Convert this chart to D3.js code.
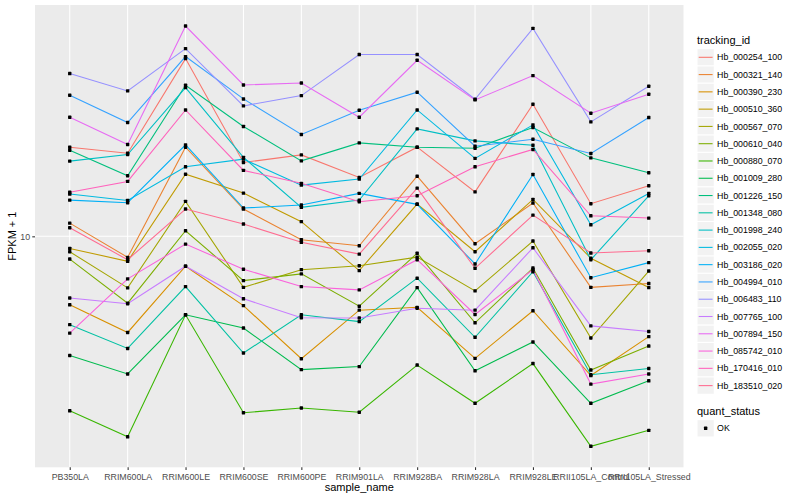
<!DOCTYPE html>
<html><head><meta charset="utf-8">
<script src="https://cdn.jsdelivr.net/npm/d3@7"></script>
<style>
body{margin:0;background:#fff}
svg{display:block;font-family:"Liberation Sans",Arial,Helvetica,sans-serif}
</style>
</head><body>
<svg id="c" width="800" height="500"></svg>
<script>
// ---------------- data ----------------
const samples = ["PB350LA","RRIM600LA","RRIM600LE","RRIM600SE","RRIM600PE","RRIM901LA","RRIM928BA","RRIM928LA","RRIM928LE","RRII105LA_Control","RRII105LA_Stressed"];
const trackingIds = ["Hb_000254_100","Hb_000321_140","Hb_000390_230","Hb_000510_360","Hb_000567_070","Hb_000610_040","Hb_000880_070","Hb_001009_280","Hb_001226_150","Hb_001348_080","Hb_001998_240","Hb_002055_020","Hb_003186_020","Hb_004994_010","Hb_006483_110","Hb_007765_100","Hb_007894_150","Hb_085742_010","Hb_170416_010","Hb_183510_020"];
const yTicks = [10];
const quantStatus = ["OK"];

const Hb_000254_100 = [15.79, 15.31, 24.86, 14.60, 15.18, 13.52, 15.79, 12.56, 19.68, 11.82, 12.96];
const Hb_000321_140 = [10.70, 8.98, 15.79, 11.50, 9.83, 9.53, 13.61, 9.63, 11.86, 7.70, 7.85];
const Hb_000390_230 = [7.04, 6.11, 8.58, 7.01, 5.34, 6.85, 6.95, 5.35, 6.83, 4.90, 5.98];
const Hb_000510_360 = [9.40, 8.80, 13.75, 12.48, 10.78, 8.39, 11.80, 9.24, 12.08, 8.94, 7.69];
const Hb_000567_070 = [9.24, 7.68, 11.96, 7.70, 8.43, 8.60, 8.99, 7.56, 9.76, 5.94, 8.37];
const Hb_000610_040 = [8.90, 7.10, 10.29, 7.97, 8.25, 6.99, 9.17, 6.42, 8.50, 5.04, 5.70];
const Hb_000880_070 = [4.09, 3.58, 6.69, 4.05, 4.15, 4.06, 5.17, 4.25, 5.21, 3.41, 3.70];
const Hb_001009_280 = [5.43, 4.94, 6.69, 6.25, 5.05, 5.13, 7.69, 5.02, 5.82, 4.25, 4.77];
const Hb_001226_150 = [15.55, 13.64, 21.69, 17.56, 14.72, 16.14, 15.79, 15.71, 17.47, 14.95, 13.85];
const Hb_001348_080 = [6.36, 5.63, 7.73, 5.50, 6.69, 6.46, 8.07, 5.96, 8.34, 4.92, 5.08];
const Hb_001998_240 = [14.70, 15.21, 21.43, 14.98, 11.60, 12.04, 17.34, 16.31, 15.95, 8.87, 12.31];
const Hb_002055_020 = [12.42, 12.02, 14.28, 14.85, 13.00, 13.41, 19.11, 14.91, 17.70, 10.61, 12.46];
const Hb_003186_020 = [12.04, 11.88, 15.98, 11.56, 11.74, 12.46, 11.78, 8.68, 13.73, 8.09, 8.74];
const Hb_004994_010 = [20.61, 17.92, 25.12, 20.22, 16.85, 19.08, 20.93, 15.87, 16.45, 15.29, 18.38];
const Hb_006483_110 = [23.03, 21.07, 26.17, 19.51, 20.57, 25.38, 25.38, 20.19, 29.03, 17.98, 21.58];
const Hb_007765_100 = [7.29, 7.08, 8.58, 7.26, 6.59, 6.58, 6.92, 6.85, 9.43, 6.32, 6.14];
const Hb_007894_150 = [18.41, 16.01, 29.38, 21.72, 21.94, 18.41, 24.65, 20.12, 22.79, 18.79, 20.71];
const Hb_085742_010 = [6.09, 8.04, 9.61, 8.45, 7.73, 7.60, 8.87, 6.70, 8.43, 4.69, 4.94];
const Hb_170416_010 = [12.53, 13.25, 19.11, 14.02, 13.12, 11.94, 12.31, 14.28, 15.61, 11.11, 10.98];
const Hb_183510_020 = [10.45, 8.87, 11.50, 10.65, 9.70, 9.13, 12.80, 8.49, 11.15, 9.18, 9.29];

const seriesValues = [Hb_000254_100, Hb_000321_140, Hb_000390_230, Hb_000510_360, Hb_000567_070,
  Hb_000610_040, Hb_000880_070, Hb_001009_280, Hb_001226_150, Hb_001348_080, Hb_001998_240,
  Hb_002055_020, Hb_003186_020, Hb_004994_010, Hb_006483_110, Hb_007765_100, Hb_007894_150,
  Hb_085742_010, Hb_170416_010, Hb_183510_020];

// ---------------- drawing ----------------
const palette = ["#F8766D","#EA8331","#D89000","#C09B00","#A3A500","#7CAE00","#39B600","#00BB4E","#00BF7D","#00C1A3","#00BFC4","#00BAE0","#00B0F6","#35A2FF","#9590FF","#C77CFF","#E76BF3","#FA62DB","#FF62BC","#FF6C91"];
const series = trackingIds.map((id, i) => ({id, values: seriesValues[i]}));

const P = {l: 35, r: 683.5, t: 5, b: 467.3};
const svg = d3.select("#c");

const x = d3.scalePoint().domain(samples).range([P.l, P.r]).padding(0.6);
const logExt = d3.extent(seriesValues.flat()).map(Math.log10);
const pad = (logExt[1] - logExt[0]) * 0.05;
const y = d3.scaleLog().domain([10 ** (logExt[0] - pad), 10 ** (logExt[1] + pad)]).range([P.b, P.t]);
const color = d3.scaleOrdinal().domain(trackingIds).range(palette);

// panel
svg.append("rect").attr("x", P.l).attr("y", P.t).attr("width", P.r - P.l).attr("height", P.b - P.t).attr("fill", "#EBEBEB");
const grid = svg.append("g").attr("stroke", "#fff").attr("stroke-width", 1.07);
grid.selectAll("line.v").data(samples).join("line").attr("class", "v")
  .attr("x1", d => x(d)).attr("x2", d => x(d)).attr("y1", P.t).attr("y2", P.b);
grid.selectAll("line.h").data(yTicks).join("line").attr("class", "h")
  .attr("x1", P.l).attr("x2", P.r).attr("y1", d => y(d)).attr("y2", d => y(d));

// lines
const line = d3.line().x((d, i) => x(samples[i])).y(d => y(d));
svg.append("g").selectAll("path").data(series).join("path")
  .attr("d", d => line(d.values)).attr("fill", "none")
  .attr("stroke", d => color(d.id)).attr("stroke-width", 1.07);

// points
const ptSize = 3.4;
svg.append("g").selectAll("g").data(series).join("g")
  .selectAll("rect").data(d => d.values).join("rect")
  .attr("x", (d, i) => x(samples[i]) - ptSize / 2).attr("y", d => y(d) - ptSize / 2)
  .attr("width", ptSize).attr("height", ptSize).attr("rx", 0.6).attr("fill", "#000");

// axes
const xAxis = svg.append("g").attr("transform", `translate(0,${P.b})`)
  .call(d3.axisBottom(x).tickSize(2.74).tickPadding(3.5));
const yAxis = svg.append("g").attr("transform", `translate(${P.l},0)`)
  .call(d3.axisLeft(y).tickValues(yTicks).tickFormat(d3.format("d")).tickSize(2.74).tickPadding(2.2));
[xAxis, yAxis].forEach(a => {
  a.select(".domain").remove();
  a.selectAll(".tick line").attr("stroke", "#333333").attr("stroke-width", 1.07);
  a.selectAll(".tick text").attr("fill", "#4D4D4D").attr("font-size", "8.8px")
    .attr("font-family", "'Liberation Sans', Arial, sans-serif");
});

svg.append("text").attr("x", (P.l + P.r) / 2).attr("y", 491).attr("text-anchor", "middle")
  .attr("font-size", "11px").attr("fill", "#000").text("sample_name");
svg.append("text").attr("transform", `translate(15.5,${(P.t + P.b) / 2}) rotate(-90)`)
  .attr("text-anchor", "middle").attr("font-size", "11px").attr("fill", "#000").text("FPKM + 1");

// legend: tracking_id
const L = {x: 697, titleY: 43.5, row0: 57.3, step: 17.28, key: 17.28};
svg.append("text").attr("x", L.x).attr("y", L.titleY).attr("font-size", "11px").text("tracking_id");
const lg = svg.append("g").selectAll("g").data(trackingIds).join("g")
  .attr("transform", (d, i) => `translate(${L.x},${L.row0 + i * L.step})`);
lg.append("rect").attr("x", 0).attr("y", -L.key / 2).attr("width", L.key).attr("height", L.key)
  .attr("fill", "#F2F2F2").attr("stroke", "#fff").attr("stroke-width", 1);
lg.append("line").attr("x1", 1.7).attr("x2", L.key - 1.7).attr("y1", 0).attr("y2", 0)
  .attr("stroke", d => color(d)).attr("stroke-width", 1.07);
lg.append("text").attr("x", L.key + 2.8).attr("y", 3.1).attr("font-size", "8.8px").text(d => d);

// legend: quant_status
svg.append("text").attr("x", L.x).attr("y", 414.5).attr("font-size", "11px").text("quant_status");
const qg = svg.append("g").selectAll("g").data(quantStatus).join("g")
  .attr("transform", (d, i) => `translate(${L.x},${428.3 + i * L.step})`);
qg.append("rect").attr("x", 0).attr("y", -L.key / 2).attr("width", L.key).attr("height", L.key)
  .attr("fill", "#F2F2F2").attr("stroke", "#fff").attr("stroke-width", 1);
qg.append("rect").attr("x", L.key / 2 - ptSize / 2).attr("y", -ptSize / 2).attr("width", ptSize).attr("height", ptSize)
  .attr("rx", 0.6).attr("fill", "#000");
qg.append("text").attr("x", L.key + 2.8).attr("y", 3.1).attr("font-size", "8.8px").text(d => d);
</script>
</body></html>
